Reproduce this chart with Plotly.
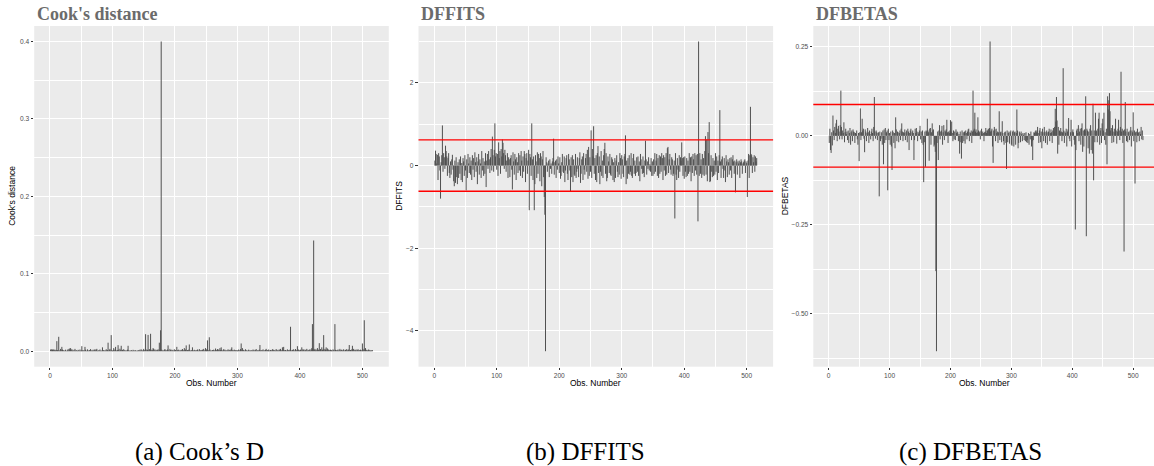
import plotly.graph_objects as go

# Influence diagnostics per observation (scaled integers to keep the tables compact)
# Cook's distance, units of 1e-4
cooks_d_e4 = [
    20, 25, 18, 22, 15, 24, 12, 20, 9, 16, 130, 14, 8, 186, 10, 6, 30, 12, 56, 22,
    15, 8, 4, 10, 20, 6, 3, 12, 28, 9, 35, 15, 40, 12, 26, 6, 18, 4, 10, 30,
    5, 14, 8, 3, 18, 10, 6, 22, 4, 12, 65, 8, 15, 5, 9, 56, 20, 7, 3, 24,
    10, 4, 16, 6, 28, 12, 3, 8, 20, 5, 14, 26, 9, 18, 30, 6, 4, 12, 8, 22,
    5, 10, 3, 50, 8, 15, 4, 12, 6, 25, 9, 14, 110, 5, 18, 30, 7, 208, 12, 4,
    16, 40, 8, 22, 56, 10, 6, 14, 78, 20, 5, 32, 12, 70, 9, 18, 4, 26, 8, 15,
    3, 10, 6, 20, 70, 12, 5, 8, 4, 15, 9, 3, 18, 6, 10, 4, 12, 7, 3, 9,
    5, 14, 8, 20, 6, 24, 10, 4, 16, 30, 12, 8, 220, 22, 6, 18, 210, 10, 28, 14,
    225, 8, 20, 12, 40, 30, 10, 22, 6, 18, 4, 14, 25, 8, 110, 16, 270, 4000, 20, 6,
    12, 5, 18, 28, 8, 14, 4, 22, 75, 10, 6, 30, 15, 3, 20, 9, 12, 5, 25, 8,
    16, 4, 56, 12, 8, 20, 3, 14, 6, 18, 10, 28, 5, 12, 40, 8, 22, 75, 9, 15,
    6, 20, 87, 10, 4, 16, 8, 50, 12, 5, 18, 3, 9, 14, 6, 22, 10, 4, 28, 12,
    8, 16, 5, 20, 10, 30, 6, 12, 40, 18, 25, 140, 14, 8, 180, 22, 6, 10, 4, 15,
    9, 20, 5, 12, 35, 8, 16, 28, 6, 22, 10, 40, 14, 50, 18, 4, 12, 26, 8, 20,
    6, 14, 3, 10, 24, 8, 18, 5, 12, 30, 50, 9, 16, 4, 20, 7, 12, 3, 15, 8,
    10, 22, 6, 14, 28, 100, 12, 40, 8, 18, 4, 10, 25, 6, 14, 3, 9, 20, 5, 12,
    8, 3, 15, 6, 22, 10, 4, 18, 12, 28, 5, 9, 14, 6, 20, 80, 10, 4, 16, 8,
    24, 6, 12, 3, 18, 30, 9, 14, 5, 22, 10, 4, 16, 8, 12, 26, 6, 20, 9, 14,
    5, 28, 12, 8, 18, 4, 22, 10, 30, 14, 6, 50, 20, 56, 12, 8, 16, 3, 10, 24,
    6, 14, 9, 20, 316, 12, 5, 18, 8, 25, 10, 4, 28, 16, 6, 65, 12, 22, 8, 14,
    20, 6, 50, 10, 28, 15, 4, 22, 12, 8, 30, 5, 18, 10, 14, 26, 6, 20, 40, 350,
    25, 1430, 18, 30, 10, 22, 8, 40, 14, 20, 104, 12, 28, 6, 50, 16, 24, 208, 10, 30,
    18, 50, 12, 36, 8, 22, 14, 6, 20, 10, 16, 4, 24, 12, 8, 350, 18, 6, 14, 10,
    22, 5, 12, 30, 8, 16, 20, 6, 14, 25, 10, 4, 18, 12, 28, 8, 14, 22, 80, 10,
    16, 6, 24, 70, 12, 30, 8, 18, 10, 22, 5, 14, 26, 9, 16, 4, 20, 12, 8, 100,
    30, 12, 400, 20, 40, 10, 18, 6, 14, 22, 8, 16, 5, 12, 9, 14,
]

# DFFITS, units of 1e-2
dffits_e2 = [
    12, 36, 28, 5, 26, -35, 30, 22, -12, -80, 8, 25, 97, -15, 30, 20, -8, 48, 35, 22,
    -25, 18, 30, -18, -30, 10, -22, 15, 26, -10, -38, -50, 12, -42, 20, -28, -45, 8, -30, 15,
    -20, 22, -35, 6, -40, 18, 10, -25, 25, -12, -60, 15, -30, 28, 5, -18, 20, -22, 12, -35,
    25, -10, 18, -28, 32, 8, -15, 20, -45, 10, 28, -22, 15, 5, -30, 35, -12, 18, -25, 10,
    -20, 30, -52, 12, 28, -8, 35, 15, -18, 20, 40, -12, 70, 25, -15, 38, 102, 22, 30, -10,
    28, -25, 56, 18, 35, -20, 40, 22, 63, 55, 30, -8, 38, 25, -15, 12, 30, -30, 20, 15,
    -28, 18, 25, -10, -58, 32, 10, -22, 28, 15, -35, 20, 8, -18, 30, -12, 25, -25, 35, 12,
    -30, 22, -15, 35, 28, -40, 18, 30, -20, 12, 38, -108, 28, 20, -25, 102, 15, -35, 22, -108,
    -45, 25, 10, -30, 32, -20, 28, 18, -38, 30, 22, -50, 15, 35, -28, -76, -119, -449, 20, 8,
    -15, 5, 12, -28, 15, -8, 5, -20, 10, 18, 65, -22, 8, 12, -30, 15, -10, 22, 5, -18,
    20, -32, -25, 8, 28, -15, -18, 22, -40, -12, 18, 25, -20, -35, 28, 15, -12, -63, 20, -28,
    25, -40, 15, -22, -25, 28, -30, -15, 20, -8, -28, 18, 32, -42, -20, 15, 22, -35, 30, -10,
    -22, 18, 28, -15, 38, -32, 45, -25, 20, -15, 85, -30, 40, 22, 95, -20, 18, -35, 25, -40,
    30, 47, -18, 22, -45, -15, 35, -25, 12, -30, 25, 40, 55, -20, 30, -38, -30, 22, 10, -18,
    28, -22, -25, 20, 15, -35, 8, -40, 18, -30, 12, 25, -15, -28, 8, -22, 30, 18, -32, 25,
    15, -20, -28, 22, 28, 73, -45, 12, -32, 18, -20, 25, -22, -15, 30, -25, -30, 18, 28, -20,
    12, -25, -18, 20, -15, 22, -25, 10, -38, 28, 15, -8, -20, 22, -18, -28, 12, 60, 15, -22,
    10, -8, 20, -12, 3, -15, 18, -25, 10, -25, 15, -20, 30, -15, 12, 28, -25, 18, -30, 25,
    -20, 22, -15, 30, 18, -35, 25, -12, 20, -25, 30, -22, 42, 45, -18, 15, 28, -10, -22, 20,
    15, -25, -20, 12, -128, 30, -22, -35, 18, -10, -30, 25, -15, 20, 12, 56, 18, -25, 20, -32,
    22, -15, -28, 18, -25, 12, -20, 30, -15, 20, -38, 22, -18, 28, 15, -25, 30, -12, 25, -22,
    28, -135, 300, -25, 30, -20, 15, -30, 28, -22, 18, -25, 35, 71, -22, 63, -38, 81, 30, 105,
    -40, -38, 25, -15, -28, 18, -25, 12, -22, 30, -15, 22, -35, 12, -18, 25, 134, 10, -30, 15,
    22, -8, -30, 18, -12, -40, 25, 10, -28, 15, 8, -22, 18, -12, 20, -30, 15, 25, 10, -20,
    12, -65, 8, 15, -22, 10, 5, 12, -30, 8, 15, 10, -20, 5, 8, 12, 15, -18, 10, 6,
    -76, 12, 28, -30, 25, 142, 28, 25, -18, 20, 8, 25, -15, 22, 10, 18,
]

# DFBETAS, units of 1e-3
dfbetas_e3 = [
    -20, 20, -40, -48, 10, -27, 57, 15, -12, 25, 8, 35, 45, -15, 20, 28, 12, -10, 30, 127,
    25, -10, 15, 8, 38, -18, 10, 20, 5, 12, -12, 15, -20, 8, 22, -25, 10, 15, -15, 18,
    12, 10, -20, 8, 5, 15, -10, -25, 8, -71, 10, 77, -12, 10, 48, 15, 20, -8, -46, 18,
    12, -15, 8, 22, 10, -20, 15, 5, -10, 12, 20, 8, -15, 25, 109, 12, -8, 15, 10, -12,
    8, 10, -170, 12, -15, -8, 10, -25, 15, -80, 18, -20, 22, -12, 10, 15, -153, 20, -12, 8,
    -25, 12, -30, -96, 15, 10, -20, 8, -35, 52, 18, -15, 12, 10, -18, 8, 15, -12, 20, 35,
    12, -15, 10, 8, 18, -12, 10, 15, -18, 20, 12, -40, 8, 15, 20, -12, 10, 15, 8, -68,
    -12, 20, 8, 22, 12, -15, 10, 5, 15, 28, -10, 12, -20, 15, -25, -130, -18, 12, -87, 15,
    12, 48, 15, 10, -70, 20, 22, -25, 10, 35, 15, 18, -30, -25, -45, -380, -605, -20, 12, -68,
    15, 30, -10, 12, 15, 28, -25, 10, 30, -12, 15, 12, 18, 45, 10, -20, 12, 8, 15, 44,
    12, 40, 8, -15, 15, -10, 12, -12, 18, 8, 12, 10, -15, 5, -50, 12, -18, -64, 15, -20,
    10, -15, 12, -22, 15, 8, -10, 12, 18, 20, -15, 10, 8, 15, -20, 12, 127, 15, 20, 65,
    12, 18, 8, 10, 52, 15, 8, 12, -10, 15, 20, 5, 12, 8, -15, 10, 12, 22, 8, 15,
    15, 20, 18, 22, 265, 12, 15, 20, -30, -76, 15, 25, 18, -15, 20, 8, 12, -20, 10, 69,
    -12, 10, 12, -18, 41, 8, -15, -25, 10, 12, -20, -93, 15, -18, 8, 12, -22, 10, 15, -25,
    -28, 12, 15, -30, 10, 12, -25, 8, 74, 15, -35, -20, 12, 8, -18, 12, 5, -15, 8, 3,
    -12, 8, -15, 10, -18, -12, -20, 8, -25, 5, -10, 12, -30, -15, -68, -12, 10, 8, 12, 15,
    10, 15, 25, 8, -20, 15, 22, -18, 12, -35, 20, 10, -15, 25, 12, -20, 10, 15, -25, 10,
    12, 20, -15, 8, 18, 10, -20, 15, 22, 12, 25, 76, 40, 109, 43, -50, 25, -25, 15, 10,
    22, 12, -15, 10, 190, 15, -20, 12, 8, 20, -30, 12, 18, 50, -8, -15, 10, 45, -30, 12,
    18, 10, -12, -25, -263, -40, 15, 20, 8, 30, -15, 12, 20, -25, 22, 35, -45, 15, -30, 18,
    15, 111, -282, 20, 15, -35, 12, -50, 20, 30, -40, 15, -50, 90, -125, 15, -18, 65, 12, 15,
    -18, 20, 48, 65, -25, 15, 22, -20, 35, 48, 15, 65, -12, 10, -25, 20, -80, 111, 74, 100,
    120, 69, 15, 22, -20, 30, 12, -18, 20, 10, 48, 15, -22, 12, 20, 45, 15, -12, 25, 180,
    12, 20, -20, 15, -325, 18, 95, 12, -15, 20, -18, 10, 12, -12, 15, 25, -30, 15, 10, 66,
    -15, 15, -134, 10, 12, -18, 20, 8, 10, -15, 12, 5, 25, -10, 15, -12,
]

dffits_cutoff = 0.62
dfbetas_cutoff = 0.088

panel_titles = ["Cook's distance", "DFFITS", "DFBETAS"]
y_titles = ["Cook's distance", "DFFITS", "DFBETAS"]
captions = ["(a) Cook\u2019s D", "(b) DFFITS", "(c) DFBETAS"]
x_title = "Obs. Number"

cooks_d = [v / 1e4 for v in cooks_d_e4]
dffits = [v / 1e2 for v in dffits_e2]
dfbetas = [v / 1e3 for v in dfbetas_e3]
obs = list(range(1, len(cooks_d) + 1))

W, H = 1154, 466
BAR = "#505050"
BG = "#EBEBEB"
TICK_FONT = dict(family="Liberation Sans, Arial, sans-serif", size=6.6, color="#4D4D4D")
LABEL_FONT = dict(family="Liberation Sans, Arial, sans-serif", size=8.5, color="#000000")


def stems(values):
    xs, ys = [], []
    for i, v in zip(obs, values):
        xs += [i, i, None]
        ys += [0, v, None]
    return xs, ys


def expanded(lo, hi, frac=0.05):
    pad = (hi - lo) * frac
    return [lo - pad, hi + pad]


# pixel layout of the three panels
panel_px = [(34.2, 388.8), (418.5, 773.1), (813.3, 1154.0)]
x_ranges = [expanded(0.55, len(obs) + 0.45)] * 2
x_ranges.append([x_ranges[0][0], (1154.0 - 828.7) / 0.609])
y_dom = [(H - 366.7) / H, (H - 26.0) / H]

series = [cooks_d, dffits, dfbetas]
y_ranges = [expanded(min(0, min(s)), max(0, max(s))) for s in series]
y_dticks = [0.1, 2, 0.25]
y_formats = [".1f", "d", ".2f"]

fig = go.Figure()
for k, vals in enumerate(series):
    xs, ys = stems(vals)
    sfx = "" if k == 0 else str(k + 1)
    fig.add_trace(go.Scatter(
        x=xs, y=ys, mode="lines", line=dict(color=BAR, width=1),
        xaxis="x" + sfx, yaxis="y" + sfx, hoverinfo="skip", showlegend=False,
    ))

axis_common = dict(
    showgrid=True, gridcolor="white", gridwidth=1.1, zeroline=False, showline=False,
    ticks="outside", ticklen=2.7, tickwidth=0.6, tickcolor="#333333",
    tickfont=TICK_FONT,
)

layout = dict(
    width=W, height=H, margin=dict(l=0, r=0, t=0, b=0),
    paper_bgcolor="white", plot_bgcolor=BG, showlegend=False,
)
for k in range(3):
    sfx = "" if k == 0 else str(k + 1)
    x0, x1 = panel_px[k]
    layout["xaxis" + sfx] = dict(
        axis_common, domain=[x0 / W, x1 / W], range=x_ranges[k],
        anchor="y" + sfx, tick0=0, dtick=100,
        minor=dict(dtick=50, showgrid=True, gridcolor="white", gridwidth=0.55),
    )
    layout["yaxis" + sfx] = dict(
        axis_common, domain=y_dom, range=y_ranges[k], anchor="x" + sfx,
        tick0=0, dtick=y_dticks[k], tickformat=y_formats[k],
        minor=dict(dtick=y_dticks[k] / 2, showgrid=True, gridcolor="white", gridwidth=0.55),
    )
fig.update_layout(**layout)

# cut-off reference lines
for axis_sfx, cut in [("2", dffits_cutoff), ("3", dfbetas_cutoff)]:
    for val in (cut, -cut):
        fig.add_shape(type="line", xref="x" + axis_sfx + " domain", yref="y" + axis_sfx,
                      x0=0, x1=1, y0=val, y1=val, line=dict(color="#FF0000", width=1.4))

annotations = []
title_x = [35, 418.5, 813.5]
ytitle_x = [12.5, 399.5, 785.0]
xtitle_x = [211.5, 595.5, 984.0]
caption_x = [199, 585, 970]
y_mid = (y_dom[0] + y_dom[1]) / 2
for k in range(3):
    annotations.append(dict(
        x=title_x[k] / W, y=(H - 14) / H, xref="paper", yref="paper",
        xanchor="left", yanchor="middle", showarrow=False,
        text="<b>" + panel_titles[k] + "</b>",
        font=dict(family="Liberation Serif, Times New Roman, serif", size=18, color="#6B6B6B"),
    ))
    annotations.append(dict(
        x=ytitle_x[k] / W, y=y_mid, xref="paper", yref="paper",
        xanchor="center", yanchor="middle", showarrow=False, textangle=-90,
        text=y_titles[k], font=LABEL_FONT,
    ))
    annotations.append(dict(
        x=xtitle_x[k] / W, y=(H - 383) / H, xref="paper", yref="paper",
        xanchor="center", yanchor="middle", showarrow=False,
        text=x_title, font=LABEL_FONT,
    ))
    annotations.append(dict(
        x=caption_x[k] / W, y=(H - 452) / H, xref="paper", yref="paper",
        xanchor="center", yanchor="middle", showarrow=False,
        text=captions[k],
        font=dict(family="Liberation Serif, Times New Roman, serif", size=25, color="#000000"),
    ))
fig.update_layout(annotations=annotations)

fig.write_html("out.html")
